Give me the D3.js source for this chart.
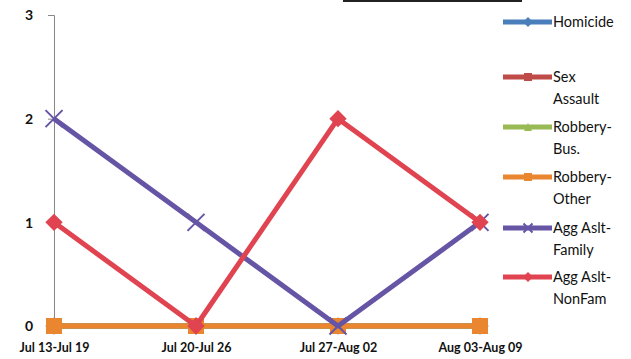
<!DOCTYPE html>
<html><head><meta charset="utf-8">
<script src="https://cdnjs.cloudflare.com/ajax/libs/d3/7.8.5/d3.min.js"></script>
<style>body{margin:0;background:#fff}svg{display:block}text{font-family:Lato,"Open Sans",sans-serif}</style>
</head><body><svg id="c" width="631" height="359"></svg>
<script>
const categories = ["Jul 13-Jul 19","Jul 20-Jul 26","Jul 27-Aug 02","Aug 03-Aug 09"];
const yTicks = [0,1,2,3];
const seriesNames = ["Homicide","Sex Assault","Robbery-Bus.","Robbery-Other","Agg Aslt-Family","Agg Aslt-NonFam"];
const legendLines = [["Homicide"],["Sex","Assault"],["Robbery-","Bus."],["Robbery-","Other"],["Agg Aslt-","Family"],["Agg Aslt-","NonFam"]];
const homicide = [0,0,0,0];
const sexAssault = [0,0,0,0];
const robberyBus = [0,0,0,0];
const robberyOther = [0,0,0,0];
const aggFamily = [2,1,0,1];
const aggNonFam = [1,0,2,1];
const colors = ["#4a7ebb","#be4b48","#98b954","#e9862f","#6655a5","#e04450"];
const markers = ["diamond","square","triangle","square","cross","diamond"];
const values = [homicide,sexAssault,robberyBus,robberyOther,aggFamily,aggNonFam];

const svg = d3.select("#c");
const x = d3.scalePoint().domain(categories).range([54,480]);
const y = d3.scaleLinear().domain([0,3]).range([326,15]);

// partial title underline
svg.append("line").attr("x1",343).attr("x2",522).attr("y1",1).attr("y2",1).attr("stroke","#222").attr("stroke-width",2);

// y axis
const yAxis = d3.axisLeft(y).tickValues(yTicks).tickFormat(d3.format("d")).tickSize(6).tickPadding(15);
const ga = svg.append("g").attr("transform","translate(54,0)").call(yAxis);
ga.select(".domain").attr("stroke","#888").attr("stroke-width",1);
ga.selectAll(".tick line").attr("stroke","#888");
ga.selectAll(".tick text").attr("font-size",14).attr("font-weight","bold").attr("fill","#111").attr("dy","0.35em");

// x labels
const xAxis = d3.axisBottom(x).tickSize(0).tickPadding(17);
const gx = svg.append("g").attr("transform","translate(0,326)").call(xAxis);
gx.select(".domain").remove();
gx.selectAll(".tick text").attr("font-size",12.5).attr("font-weight","bold").attr("fill","#111");

const line = d3.line().x((d,i)=>x(categories[i])).y(d=>y(d));

function drawMarker(g, type, cx, cy, color, s) {
  if (type==="square") {
    g.append("rect").attr("x",cx-s/2).attr("y",cy-s/2).attr("width",s).attr("height",s).attr("fill",color);
  } else if (type==="diamond") {
    g.append("path").attr("d",`M${cx},${cy-s*0.62}L${cx+s*0.62},${cy}L${cx},${cy+s*0.62}L${cx-s*0.62},${cy}Z`).attr("fill",color);
  } else if (type==="triangle") {
    g.append("path").attr("d",`M${cx},${cy-s/2}L${cx+s/2},${cy+s/2}L${cx-s/2},${cy+s/2}Z`).attr("fill",color);
  } else if (type==="cross") {
    const h = s/2;
    g.append("path").attr("d",`M${cx-h},${cy-h}L${cx+h},${cy+h}M${cx-h},${cy+h}L${cx+h},${cy-h}`).attr("stroke",color).attr("stroke-width",2).attr("fill","none");
  }
}

values.forEach((vals,k)=>{
  const g = svg.append("g");
  g.append("path").datum(vals).attr("d",line).attr("fill","none").attr("stroke",colors[k]).attr("stroke-width",5).attr("stroke-linejoin","round");
  vals.forEach((v,i)=>drawMarker(g, markers[k], x(categories[i]), y(v), colors[k], markers[k]==="cross"?17:(k===3?16:14)));
});

// legend
const legY = [22,77,127,177,228,277];
legendLines.forEach((ls,k)=>{
  const g = svg.append("g");
  g.append("line").attr("x1",503).attr("x2",552).attr("y1",legY[k]).attr("y2",legY[k]).attr("stroke",colors[k]).attr("stroke-width",5);
  drawMarker(g, markers[k], 528, legY[k], colors[k], markers[k]==="cross"?9:8);
  ls.forEach((t,j)=>{
    g.append("text").attr("x",553).attr("y",legY[k]+j*22).attr("dy","0.35em").attr("font-size",14.5).attr("fill","#111").text(t);
  });
});
</script></body></html>
